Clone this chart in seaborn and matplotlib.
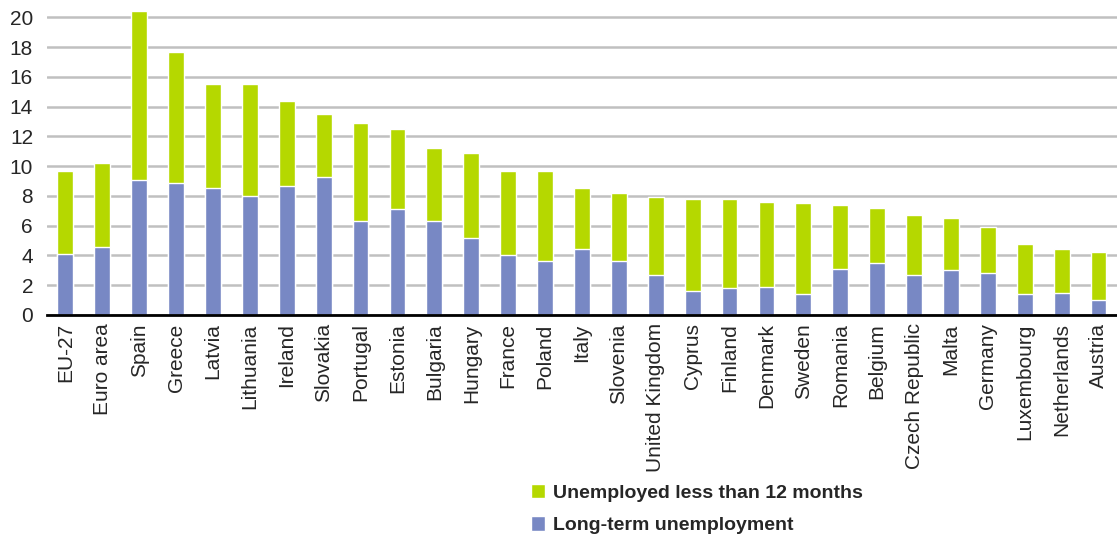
import pandas as pd
import matplotlib
matplotlib.use("Agg")
import matplotlib.pyplot as plt
import seaborn as sns
from matplotlib.patches import Patch
from matplotlib.ticker import FixedLocator

# Datos
countries = ['EU-27', 'Euro area', 'Spain', 'Greece', 'Latvia', 'Lithuania', 'Ireland',
             'Slovakia', 'Portugal', 'Estonia', 'Bulgaria', 'Hungary', 'France', 'Poland',
             'Italy', 'Slovenia', 'United Kingdom', 'Cyprus', 'Finland', 'Denmark', 'Sweden',
             'Romania', 'Belgium', 'Czech Republic', 'Malta', 'Germany', 'Luxembourg',
             'Netherlands', 'Austria']
total = [9.7, 10.2, 20.4, 17.7, 15.5, 15.5, 14.4, 13.5, 12.9, 12.5, 11.2, 10.9, 9.7, 9.7,
         8.5, 8.2, 7.9, 7.8, 7.8, 7.6, 7.5, 7.4, 7.2, 6.7, 6.5, 5.9, 4.8, 4.4, 4.2]
long_term = [4.1, 4.6, 9.1, 8.9, 8.5, 8.0, 8.7, 9.3, 6.3, 7.1, 6.3, 5.2, 4.0, 3.6,
             4.4, 3.6, 2.7, 1.6, 1.8, 1.9, 1.4, 3.1, 3.5, 2.7, 3.0, 2.8, 1.4, 1.5, 1.0]

df = pd.DataFrame({'country': countries, 'total': total, 'long_term': long_term})

green = '#b5d800'
blue = '#7888c4'

sns.set_style('white')
plt.rcParams['font.family'] = ['Liberation Sans', 'DejaVu Sans']

fig = plt.figure(figsize=(11.17, 5.44), dpi=100)
ax = fig.add_axes([0.042, 0.421, 0.958, 0.569])

# barras apiladas: total (verde) detras, larga duracion (azul) delante
sns.barplot(data=df, x='country', y='total', color=green, width=0.43,
            saturation=1, ax=ax, zorder=3)
sns.barplot(data=df, x='country', y='long_term', color=blue, width=0.43,
            saturation=1, ax=ax, zorder=3)

ax.set_xlim(-0.5, 28.5)
ax.set_ylim(0, 20.8)
ax.set_yticks(range(0, 21, 2))
ax.yaxis.grid(True, color='#c0c0c0', linewidth=1.8, zorder=0)
ax.set_axisbelow(True)
for s in ['top', 'right', 'left']:
    ax.spines[s].set_visible(False)
ax.spines['bottom'].set_color('black')
ax.spines['bottom'].set_linewidth(2)
ax.spines['bottom'].set_zorder(5)

ax.set_xlabel('')
ax.set_ylabel('')
ax.tick_params(axis='y', length=0, labelsize=15, pad=10)
ax.tick_params(axis='x', which='major', length=0, labelsize=15, pad=6)
ax.set_xticks(range(len(countries)))
ax.set_xticklabels(countries, rotation=90)
ax.xaxis.set_minor_locator(FixedLocator([i - 0.5 for i in range(len(countries) + 1)]))
ax.tick_params(axis='x', which='minor', length=7, width=1.5, color='black', direction='out')

handles = [Patch(facecolor=green, label='Unemployed less than 12 months'),
           Patch(facecolor=blue, label='Long-term unemployment')]
fig.legend(handles=handles, loc='upper left', bbox_to_anchor=(0.468, 0.125),
           frameon=False, prop={'weight': 'bold', 'size': 14},
           handlelength=0.75, handleheight=0.75, handletextpad=0.4, labelspacing=0.75,
           borderaxespad=0)

fig.savefig('out.png', dpi=100)
